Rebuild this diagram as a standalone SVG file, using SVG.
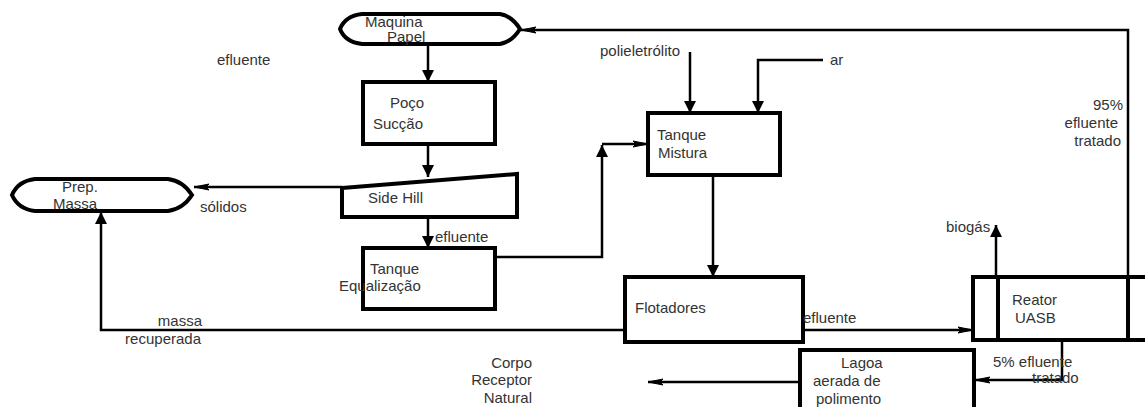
<svg xmlns="http://www.w3.org/2000/svg" width="1145" height="407" viewBox="0 0 1145 407">
<style>
.box{fill:#fff;stroke:#000;stroke-width:4}
.edge{fill:none;stroke:#000;stroke-width:2.5}
.t{font-family:"Liberation Sans",Arial,sans-serif;font-size:15px;fill:#333}
.e{text-anchor:end}
</style>
<defs>
<marker id="ah" markerUnits="userSpaceOnUse" markerWidth="14" markerHeight="14" refX="12" refY="7" orient="auto"><path d="M0,1 L12,7 L0,13 Z" fill="#000"/></marker>
<marker id="an" markerUnits="userSpaceOnUse" markerWidth="16" markerHeight="10" refX="15" refY="5" orient="auto"><path d="M0,2 L15,5 L0,8 L3,5 Z" fill="#000" stroke="#000" stroke-width="1"/></marker>
</defs>
<rect width="1145" height="407" fill="#fff"/>

<g id="connectors">
<path class="edge" d="M428,44 V82" marker-end="url(#ah)"/>
<path class="edge" d="M428,144 V177" marker-end="url(#ah)"/>
<path class="edge" d="M428,217 V248" marker-end="url(#ah)"/>
<path class="edge" d="M495,257 H602 V145" marker-end="url(#ah)"/>
<path class="edge" d="M602,144 H648" marker-end="url(#an)"/>
<path class="edge" d="M690,52 V113" marker-end="url(#ah)"/>
<path class="edge" d="M823,60 H758 V113" marker-end="url(#ah)"/>
<path class="edge" d="M713,175 V277" marker-end="url(#ah)"/>
<path class="edge" d="M625,330 H101 V212" marker-end="url(#ah)"/>
<path class="edge" d="M342,187 H194" marker-end="url(#an)"/>
<path class="edge" d="M803,330 H973" marker-end="url(#an)"/>
<path class="edge" d="M996,277 V225" marker-end="url(#ah)"/>
<path class="edge" d="M1062,340 V380 H975" marker-end="url(#an)"/>
<path class="edge" d="M799,382 H648" marker-end="url(#an)"/>
<path class="edge" d="M1128,277 V30 H521" marker-end="url(#an)"/>
</g>

<g id="maquina-papel">
<path class="box" d="M340,29 Q345,16 362,14 H500 Q512,16 520,29 Q512,42 500,44 H362 Q345,42 340,29 Z"/>
<text class="t" x="365" y="27">Maquina</text>
<text class="t" x="387" y="42">Papel</text>
</g>

<g id="poco-succao">
<rect class="box" x="363" y="82" width="132" height="62"/>
<text class="t" x="390" y="108">Poço</text>
<text class="t" x="373" y="129">Sucção</text>
</g>

<g id="side-hill">
<polygon class="box" points="342,188 517,174 517,217 342,217"/>
<text class="t" x="368" y="203">Side Hill</text>
</g>

<g id="tanque-equalizacao">
<rect class="box" x="363" y="248" width="132" height="61"/>
<text class="t" x="370" y="274">Tanque</text>
<text class="t" x="339" y="291">Equalização</text>
</g>

<g id="prep-massa">
<path class="box" d="M12,195 Q18,181 35,179 H168 Q183,181 192,195 Q183,209 168,211 H35 Q18,209 12,195 Z"/>
<text class="t" x="62" y="192">Prep.</text>
<text class="t" x="53" y="209">Massa</text>
</g>

<g id="tanque-mistura">
<rect class="box" x="648" y="113" width="132" height="62"/>
<text class="t" x="657" y="140">Tanque</text>
<text class="t" x="658" y="158">Mistura</text>
</g>

<g id="flotadores">
<rect class="box" x="625" y="277" width="178" height="65"/>
<text class="t" x="635" y="313">Flotadores</text>
</g>

<g id="reator-uasb">
<rect class="box" x="973" y="277" width="180" height="63"/>
<line x1="998" y1="277" x2="998" y2="340" stroke="#000" stroke-width="4"/>
<line x1="1128" y1="277" x2="1128" y2="340" stroke="#000" stroke-width="4"/>
<text class="t" x="1012" y="305">Reator</text>
<text class="t" x="1015" y="323">UASB</text>
</g>

<g id="lagoa">
<rect class="box" x="800" y="350" width="174" height="70"/>
<text class="t" x="841" y="368">Lagoa</text>
<text class="t" x="813" y="386">aerada de</text>
<text class="t" x="816" y="404">polimento</text>
</g>

<g id="labels">
<text class="t" x="217" y="65">efluente</text>
<text class="t" x="435" y="242">efluente</text>
<text class="t" x="200" y="212">sólidos</text>
<text class="t" x="600" y="56">polieletrólito</text>
<text class="t" x="830" y="65">ar</text>
<text class="t e" x="202" y="326">massa</text>
<text class="t e" x="201" y="344">recuperada</text>
<text class="t" x="803" y="323">efluente</text>
<text class="t" x="946" y="232">biogás</text>
<text class="t e" x="1123" y="110">95%</text>
<text class="t e" x="1118" y="128">efluente</text>
<text class="t e" x="1121" y="146">tratado</text>
<text class="t" x="993" y="367">5% efluente</text>
<text class="t" x="1032" y="383">tratado</text>
<text class="t e" x="532" y="368">Corpo</text>
<text class="t e" x="532" y="385">Receptor</text>
<text class="t e" x="532" y="403">Natural</text>
</g>
</svg>
